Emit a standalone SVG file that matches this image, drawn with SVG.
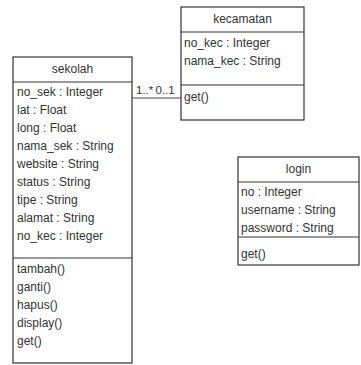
<svg xmlns="http://www.w3.org/2000/svg" width="361" height="365" viewBox="0 0 361 365">
<style>
.box{fill:#ffffff;stroke:#333333;stroke-width:1.2}
.sep{stroke:#333333;stroke-width:1.2}
text{font-family:"Liberation Sans",Arial,sans-serif;font-size:12px;fill:#333333}
.title{text-anchor:middle}
.conn{stroke:#444444;stroke-width:1.2;fill:none}
.mult{font-size:11.5px}
</style>
<rect width="361" height="365" fill="#ffffff"/>
<g id="connectors">
<line class="conn" x1="132" y1="98" x2="181" y2="98"/>
<text class="mult" x="136" y="94">1..*</text>
<text class="mult" x="155.5" y="94">0..1</text>
</g>
<g id="sekolah">
<rect class="box" x="13" y="57" width="119" height="306"/>
<line class="sep" x1="13" y1="82" x2="132" y2="82"/>
<line class="sep" x1="13" y1="258" x2="132" y2="258"/>
<text class="title" x="72.5" y="73">sekolah</text>
<text x="17" y="96">no_sek : Integer</text>
<text x="17" y="114">lat : Float</text>
<text x="17" y="132">long : Float</text>
<text x="17" y="150">nama_sek : String</text>
<text x="17" y="168">website : String</text>
<text x="17" y="186">status : String</text>
<text x="17" y="204">tipe : String</text>
<text x="17" y="222">alamat : String</text>
<text x="17" y="240">no_kec : Integer</text>
<text x="17" y="273">tambah()</text>
<text x="17" y="291">ganti()</text>
<text x="17" y="309">hapus()</text>
<text x="17" y="327">display()</text>
<text x="17" y="345">get()</text>
</g>
<g id="kecamatan">
<rect class="box" x="181" y="7" width="123" height="113"/>
<line class="sep" x1="181" y1="32" x2="304" y2="32"/>
<line class="sep" x1="181" y1="85" x2="304" y2="85"/>
<text class="title" x="242.5" y="23">kecamatan</text>
<text x="184" y="47">no_kec : Integer</text>
<text x="184" y="65">nama_kec : String</text>
<text x="184" y="101">get()</text>
</g>
<g id="login">
<rect class="box" x="238" y="157" width="121" height="108"/>
<line class="sep" x1="238" y1="182" x2="359" y2="182"/>
<line class="sep" x1="238" y1="237" x2="359" y2="237"/>
<text class="title" x="298.5" y="173">login</text>
<text x="241" y="196">no : Integer</text>
<text x="241" y="214">username : String</text>
<text x="241" y="232">password : String</text>
<text x="241" y="258">get()</text>
</g>
</svg>
